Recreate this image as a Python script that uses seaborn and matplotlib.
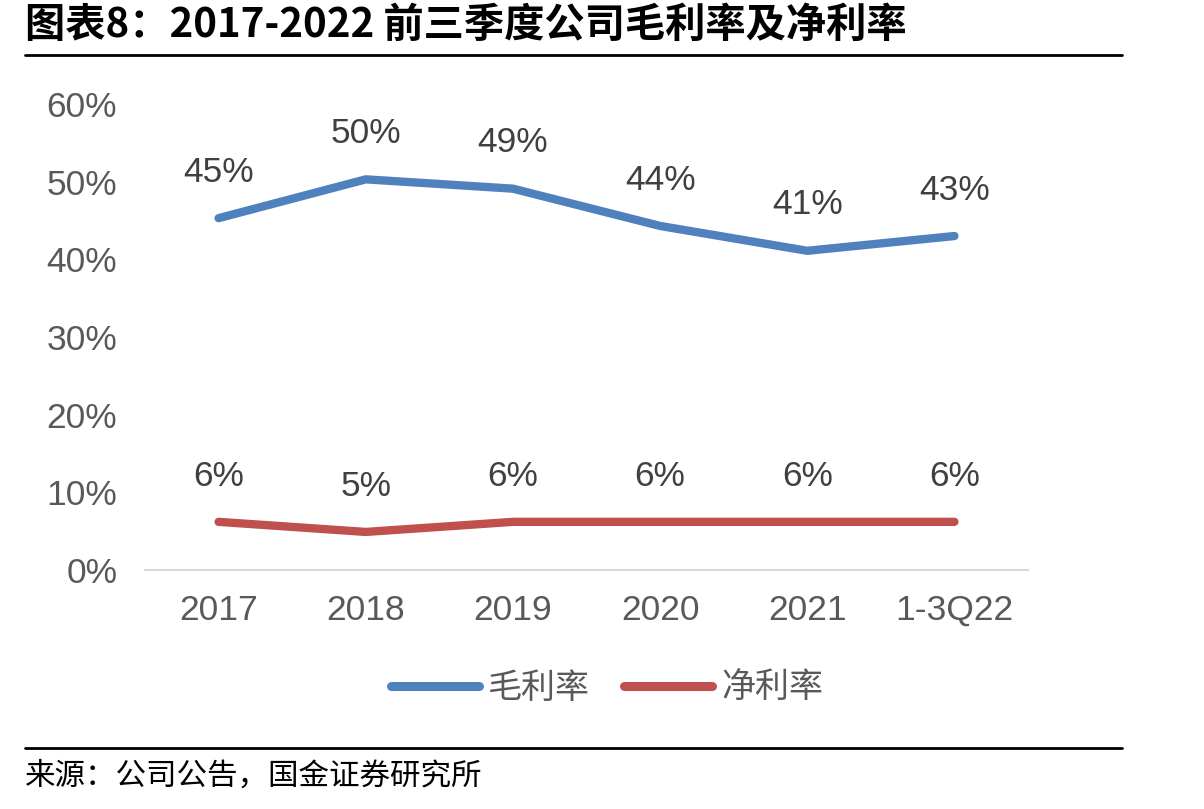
import matplotlib
matplotlib.use("Agg")
import matplotlib.pyplot as plt
import seaborn as sns
import pandas as pd
from matplotlib.lines import Line2D

categories = ["2017", "2018", "2019", "2020", "2021", "1-3Q22"]
gross_margin = [45.3, 50.3, 49.1, 44.3, 41.1, 43.0]
net_margin = [6.2, 4.9, 6.2, 6.2, 6.2, 6.2]
series_names = ["毛利率", "净利率"]
yticks = [0, 10, 20, 30, 40, 50, 60]

sns.set_theme(style="white")
plt.rcParams['font.family'] = ['Liberation Sans', 'Noto Sans CJK SC', 'DejaVu Sans']

df = pd.DataFrame({
    "cat": categories * 2,
    "x": list(range(len(categories))) * 2,
    "value": gross_margin + net_margin,
    "series": [series_names[0]] * len(categories) + [series_names[1]] * len(categories),
})

colors = {"毛利率": "#4F81BD", "净利率": "#C0504D"}
gray = "#595959"
fs = 25.5

fig = plt.figure(figsize=(12.04, 8.09), dpi=100)
ax = fig.add_axes([145/1204, 1 - 570/809, (1028-145)/1204, (570-104)/809])

sns.lineplot(data=df, x="x", y="value", hue="series", palette=colors, linewidth=6,
             sort=False, legend=False, ax=ax, solid_capstyle="round")

ax.set_xlim(-0.5, len(categories) - 0.5)
ax.set_ylim(0, 60)
ax.set_yticks(yticks)
ax.set_yticklabels([f"{t}%" for t in yticks], fontsize=fs, color=gray)
ax.set_xticks(range(len(categories)))
ax.set_xticklabels(categories, fontsize=fs, color=gray)
ax.tick_params(axis="x", length=0, pad=17)
ax.tick_params(axis="y", length=0, pad=20)
ax.set_xlabel("")
ax.set_ylabel("")
for s in ["top", "right", "left"]:
    ax.spines[s].set_visible(False)
ax.spines["bottom"].set_color("#D9D9D9")
ax.spines["bottom"].set_linewidth(1.5)

for vals in (gross_margin, net_margin):
    for i, v in enumerate(vals):
        ax.annotate(f"{round(v):.0f}%", (i, v), xytext=(0, 33), textcoords="offset points",
                    ha="center", va="center", fontsize=fs, color="#404040")

handles = [Line2D([0], [0], color=colors[n], lw=6.5, solid_capstyle="round") for n in series_names]
leg = fig.legend(handles, series_names, loc="center", bbox_to_anchor=(607/1204, 1 - 688/809),
                 ncol=2, frameon=False, handlelength=2.6, handletextpad=0.25, columnspacing=1.0,
                 prop={"family": ["Noto Sans CJK SC"], "size": 24.5})
for t in leg.get_texts():
    t.set_color(gray)

fig.text(25/1204, 1 - 25/809, "图表8：2017-2022 前三季度公司毛利率及净利率", fontsize=29,
         fontweight="bold", style="italic", family=["Noto Sans CJK SC"], va="center", ha="left",
         color="black")
fig.add_artist(Line2D([25/1204, 1122/1204], [1 - 55/809, 1 - 55/809], color="black", lw=2,
                      transform=fig.transFigure))
fig.add_artist(Line2D([25/1204, 1122/1204], [1 - 748/809, 1 - 748/809], color="black", lw=2,
                      transform=fig.transFigure))
fig.text(25/1204, 1 - 776/809, "来源：公司公告，国金证券研究所", fontsize=22,
         family=["Noto Sans CJK SC"], va="center", ha="left", color="black")

fig.savefig("out.png", dpi=100)
